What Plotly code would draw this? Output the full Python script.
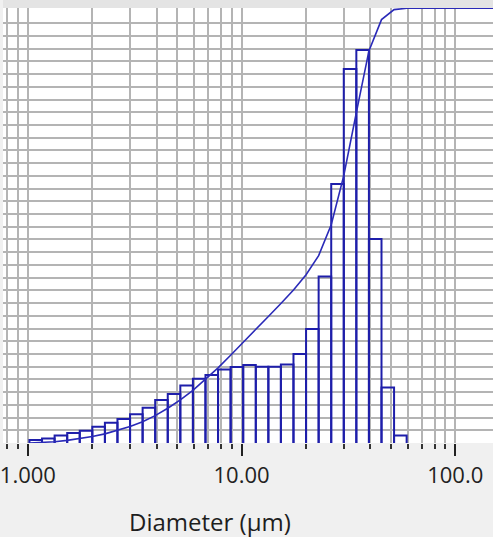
import plotly.graph_objects as go

# Bin edges (diameter, µm)
bin_edges = [1.017, 1.165, 1.334, 1.528, 1.749, 2.003, 2.294, 2.626, 3.008, 3.444,
             3.943, 4.515, 5.170, 5.921, 6.780, 7.763, 8.889, 10.18, 11.66, 13.35,
             15.28, 17.50, 20.04, 22.95, 26.28, 30.09, 34.45, 39.45, 45.18, 51.73, 59.24]
# Volume % in each bin
volume_pct = [0.12, 0.18, 0.29, 0.39, 0.48, 0.64, 0.80, 0.94, 1.13, 1.39,
              1.69, 1.93, 2.26, 2.53, 2.67, 2.89, 2.99, 3.07, 3.00, 3.00,
              3.09, 3.50, 4.48, 6.54, 10.18, 14.70, 15.45, 8.02, 2.18, 0.29]
# Cumulative undersize % at diameters
cum_diam = bin_edges + [67.83, 77.68, 88.95, 101.9, 116.6, 133.6, 152.9]
cum_pct = [0, 0.1, 0.3, 0.6, 1.0, 1.5, 2.1, 2.9, 3.8, 4.9,
           6.3, 8.0, 9.9, 12.1, 14.6, 17.3, 20.2, 23.1, 26.2, 29.1,
           32.1, 35.2, 38.7, 43.1, 50.2, 61.5, 76.0, 90.2, 97.4, 99.7,
           100, 100, 100, 100, 100, 100, 100, 100]

x_tick_vals = [1, 10, 100]
x_tick_text = ["1.000", "10.00", "100.0"]
x_minor_vals = [0.8, 0.9, 2, 3, 4, 5, 6, 7, 8, 9, 20, 30, 40, 50, 60, 70, 80, 90]

BAR_COLOR = "#1e1eaa"
CURVE_COLOR = "#2a2ab8"
GRID = "#b4b4b4"
FONT = "Open Sans"

# Histogram outline path built from the bin data
bx, by = [], []
for i, v in enumerate(volume_pct):
    lo, hi = bin_edges[i], bin_edges[i + 1]
    bx += [lo, lo, hi, hi, None]
    by += [0, v, v, 0, None]

fig = go.Figure()
fig.add_trace(go.Scatter(x=bx, y=by, mode="lines",
                         line=dict(color=BAR_COLOR, width=2),
                         yaxis="y", showlegend=False, hoverinfo="skip"))
fig.add_trace(go.Scatter(x=cum_diam, y=cum_pct, mode="lines",
                         line=dict(color=CURVE_COLOR, width=1.6),
                         yaxis="y2", showlegend=False, cliponaxis=False))

T, B = 8, 94
H_PLOT = 537 - T - B
fig.update_layout(
    width=493, height=537,
    margin=dict(l=0, r=0, t=T, b=B, pad=0),
    paper_bgcolor="#f0f0f0",
    plot_bgcolor="white",
    font=dict(family=FONT, color="#1e1e1e"),
    xaxis=dict(
        type="log", range=[-0.1163, 2.1767],
        tickvals=x_tick_vals, ticktext=x_tick_text,
        ticks="outside", ticklen=12, tickwidth=2, tickcolor="#222",
        tickfont=dict(size=22, family=FONT, color="#222"),
        ticklabeloverflow="allow", ticklabelstandoff=1,
        showgrid=True, gridcolor=GRID, gridwidth=1.5,
        showline=False, zeroline=False,
        minor=dict(tickvals=x_minor_vals, ticks="outside", ticklen=5,
                   tickwidth=1.5, tickcolor="#333",
                   showgrid=True, gridcolor=GRID, gridwidth=1.5),
    ),
    yaxis=dict(
        range=[0, H_PLOT / 25.44],
        tickvals=[i * 0.5 for i in range(34)],
        showticklabels=False, ticks="",
        showgrid=True, gridcolor=GRID, gridwidth=1.5,
        zeroline=False, showline=False,
    ),
    yaxis2=dict(
        range=[0, 100 * H_PLOT / 434.7], overlaying="y", side="right",
        showgrid=False, showticklabels=False, ticks="", zeroline=False,
        showline=False,
    ),
    annotations=[dict(text="Diameter (µm)", xref="paper", yref="paper",
                      x=208 / 493, y=0, yshift=-78, xanchor="center",
                      yanchor="middle", showarrow=False,
                      font=dict(size=24, family=FONT, color="#1e1e1e"))],
    shapes=[dict(type="rect", xref="paper", yref="paper", x0=0, x1=1,
                 y0=1, y1=1 + T / H_PLOT, fillcolor="#e4e4e4",
                 line=dict(width=0), layer="below")],
)
fig.write_html("out.html", config={"displayModeBar": False},
               post_script="document.body.style.margin='0';"
                           "document.body.style.overflow='hidden';")
